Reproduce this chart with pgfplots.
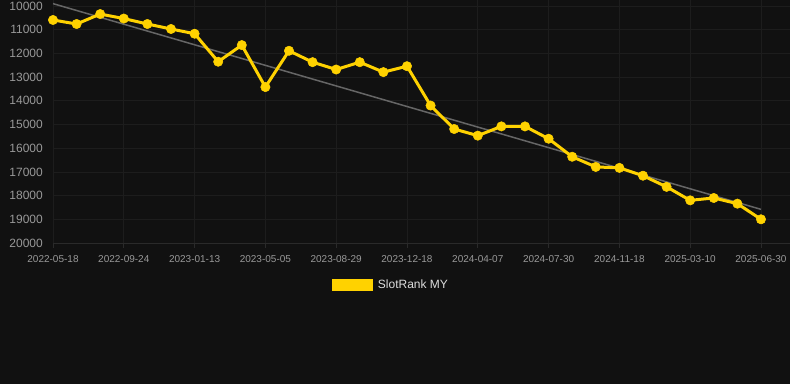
\documentclass[border=0pt]{standalone}
\usepackage{pgfplots}
\pgfplotsset{compat=1.18}
\usepackage{fontspec}
\setmainfont{Liberation Sans}
\definecolor{bgc}{HTML}{111111}
\definecolor{gridc}{HTML}{1D1D1D}
\definecolor{axc}{HTML}{2A2A2A}
\definecolor{tickc}{HTML}{999999}
\definecolor{slotyellow}{HTML}{FFD200}
\definecolor{trendc}{HTML}{666666}
\definecolor{legc}{HTML}{DDDDDD}
\begin{document}
\begin{tikzpicture}[x=1pt,y=1pt]
\useasboundingbox (0,0) rectangle (790,384);
\fill[bgc] (0,0) rectangle (790,384);
\begin{axis}[
  at={(53pt,141pt)}, anchor=south west,
  scale only axis, width=737pt, height=243pt,
  xmin=0, xmax=31.23,
  ymin=9747, ymax=20000,
  y dir=reverse,
  axis line style={draw=none},
  grid=major,
  major grid style={draw=gridc, line width=0.8pt},
  xtick={0,3,...,30},
  xticklabels={2022-05-18,2022-09-24,2023-01-13,2023-05-05,2023-08-29,2023-12-18,2024-04-07,2024-07-30,2024-11-18,2025-03-10,2025-06-30},
  ytick={10000,11000,...,20000},
  scaled y ticks=false,
  yticklabel={\pgfmathprintnumber[fixed,precision=0,1000 sep={}]{\tick}},
  /pgf/number format/assume math mode=true,
  xtick pos=left, ytick pos=left,
  tick align=outside,
  major tick length=5pt,
  xtick style={draw=axc, line width=0.8pt},
  ytick style={draw=none},
  xticklabel style={font=\fontsize{10}{12}\selectfont, text=tickc, inner sep=0pt, anchor=north, yshift=-7pt},
  yticklabel style={font=\fontsize{12}{14}\selectfont, text=tickc, inner sep=0pt, anchor=east, xshift=-5pt},
  clip=true,
  legend style={at={(0.4583,-0.173)}, anchor=center, draw=none, fill=none, text=legc, font=\fontsize{12}{14}\selectfont, /tikz/every odd column/.append style={column sep=4pt}},
  legend cell align=left,
]
\addplot[forget plot, draw=axc, line width=0.8pt] coordinates {(0,20000) (31.23,20000)};
\addplot[forget plot, draw=trendc, line width=1.5pt] coordinates {(0,9900) (30,18580)};
\addplot[forget plot, draw=slotyellow, line width=3pt, line join=round, mark=*, mark size=4.7pt, mark options={fill=slotyellow, draw=slotyellow, line width=0.5pt}] coordinates {
(0,10590) (1,10760) (2,10340) (3,10530) (4,10760) (5,10970) (6,11170) (7,12350) (8,11650) (9,13420)
(10,11890) (11,12370) (12,12680) (13,12370) (14,12790) (15,12540) (16,14200) (17,15190) (18,15470) (19,15080)
(20,15080) (21,15600) (22,16360) (23,16790) (24,16830) (25,17160) (26,17630) (27,18200) (28,18100) (29,18340) (30,19000)
};
\addlegendimage{legend image code/.code={\fill[slotyellow] (0pt,-5.5pt) rectangle (40pt,5.5pt);}}
\addlegendentry{SlotRank MY}
\end{axis}
\end{tikzpicture}
\end{document}
